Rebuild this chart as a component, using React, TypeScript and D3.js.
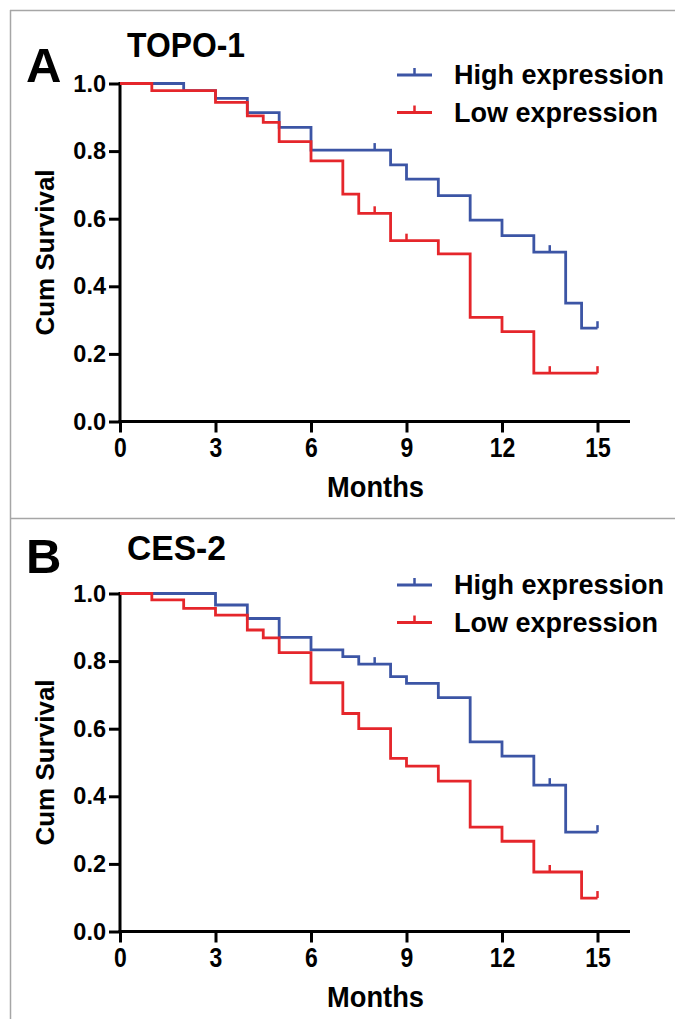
import React, { useEffect, useRef } from 'react';
import * as d3 from 'd3';

// Kaplan-Meier step data (time in months, cum survival)
const topoHighTimes = [0, 2, 3, 4, 5, 6, 8.5, 9, 10, 11, 12, 13, 14, 14.5, 15];
const topoHighSurv = [1.0, 0.979, 0.956, 0.914, 0.87, 0.803, 0.759, 0.717, 0.668, 0.596, 0.55, 0.501, 0.35, 0.276, 0.276];
const topoHighCensor = [8, 13.5, 15];

const topoLowTimes = [0, 1, 3, 4, 4.5, 5, 6, 7, 7.5, 8.5, 10, 11, 12, 13, 15];
const topoLowSurv = [1.0, 0.979, 0.944, 0.904, 0.885, 0.828, 0.771, 0.673, 0.616, 0.535, 0.496, 0.308, 0.266, 0.143, 0.143];
const topoLowCensor = [8, 9, 13.5, 15];

const cesHighTimes = [0, 3, 4, 5, 6, 7, 7.5, 8.5, 9, 10, 11, 12, 13, 14, 15];
const cesHighSurv = [1.0, 0.966, 0.926, 0.87, 0.833, 0.813, 0.791, 0.754, 0.734, 0.692, 0.561, 0.519, 0.433, 0.294, 0.294];
const cesHighCensor = [8, 13.5, 15];

const cesLowTimes = [0, 1, 2, 3, 4, 4.5, 5, 6, 7, 7.5, 8.5, 9, 10, 11, 12, 13, 14.5, 15];
const cesLowSurv = [1.0, 0.981, 0.956, 0.936, 0.892, 0.869, 0.825, 0.736, 0.645, 0.6, 0.512, 0.489, 0.445, 0.309, 0.267, 0.176, 0.099, 0.099];
const cesLowCensor = [13.5, 15];

const xTicks = [0, 3, 6, 9, 12, 15];
const yTicks = [0, 0.2, 0.4, 0.6, 0.8, 1.0];
const seriesLabels = ['High expression', 'Low expression'];

const BLUE = '#3c55a5';
const RED = '#e5262b';
const BOLD = '"Liberation Sans", Arial, Helvetica, sans-serif';

const panels = [
  {
    letter: 'A', title: 'TOPO-1', titleWidth: 118, top: 0, letterY: 82, titleY: 57,
    curves: [
      { times: topoHighTimes, surv: topoHighSurv, censor: topoHighCensor, color: BLUE },
      { times: topoLowTimes, surv: topoLowSurv, censor: topoLowCensor, color: RED },
    ],
  },
  {
    letter: 'B', title: 'CES-2', titleWidth: 99, top: 510, letterY: 63, titleY: 50,
    curves: [
      { times: cesHighTimes, surv: cesHighSurv, censor: cesHighCensor, color: BLUE },
      { times: cesLowTimes, surv: cesLowSurv, censor: cesLowCensor, color: RED },
    ],
  },
];

const App = () => {
  const ref = useRef<SVGSVGElement | null>(null);

  useEffect(() => {
    const svg = d3.select(ref.current);
    svg.selectAll('*').remove();

    // outer frame + divider
    const frame = svg.append('g').attr('stroke', '#a6a6a6').attr('stroke-width', 1.5);
    frame.append('line').attr('x1', 10.5).attr('x2', 10.5).attr('y1', 10).attr('y2', 1019);
    frame.append('line').attr('x1', 10).attr('x2', 675).attr('y1', 10.5).attr('y2', 10.5);
    frame.append('line').attr('x1', 10).attr('x2', 675).attr('y1', 518.5).attr('y2', 518.5);

    const x = d3.scaleLinear().domain([0, 15]).range([120, 597.5]);

    panels.forEach(p => {
      const g = svg.append('g').attr('transform', `translate(0,${p.top})`);
      const y = d3.scaleLinear().domain([0, 1]).range([421.5, 83.5]);

      // panel letter + title (title is a condensed face in the original)
      g.append('text').attr('x', 26).attr('y', p.letterY)
        .attr('font-family', BOLD).attr('font-weight', 'bold').attr('font-size', 49)
        .text(p.letter);
      g.append('text').attr('x', 127).attr('y', p.titleY)
        .attr('font-family', BOLD).attr('font-weight', 'bold').attr('font-size', 35)
        .attr('textLength', p.titleWidth).attr('lengthAdjust', 'spacingAndGlyphs')
        .text(p.title);

      // axes
      const yAxis = g.append('g').attr('transform', 'translate(120,0)')
        .call(d3.axisLeft(y).tickValues(yTicks).tickFormat(d3.format('.1f')).tickSize(11).tickSizeOuter(0).tickPadding(3));
      const xAxis = g.append('g').attr('transform', 'translate(0,421.5)')
        .call(d3.axisBottom(x).tickValues(xTicks).tickSize(11).tickSizeOuter(0).tickPadding(5));
      [yAxis, xAxis].forEach(a => {
        a.select('.domain').remove();
        a.selectAll('line').attr('stroke', '#000').attr('stroke-width', 3);
      });
      yAxis.selectAll('text').attr('font-family', BOLD).attr('font-weight', 'bold').attr('font-size', 23.5).attr('fill', '#000');
      xAxis.selectAll('text').attr('font-family', BOLD).attr('font-weight', 'bold').attr('font-size', 28)
        .attr('fill', '#000').attr('transform', 'scale(0.82,1)');

      g.append('line').attr('x1', 120).attr('x2', 120).attr('y1', y(1) - 1.5).attr('y2', y(0))
        .attr('stroke', '#000').attr('stroke-width', 3);
      g.append('line').attr('x1', 118.5).attr('x2', 630).attr('y1', y(0)).attr('y2', y(0))
        .attr('stroke', '#000').attr('stroke-width', 3);

      g.append('text').attr('x', 327).attr('y', 497)
        .attr('font-family', BOLD).attr('font-weight', 'bold').attr('font-size', 30)
        .attr('textLength', 97).attr('lengthAdjust', 'spacingAndGlyphs')
        .text('Months');
      g.append('text').attr('transform', `translate(54,${(y(0) + y(1)) / 2}) rotate(-90)`)
        .attr('text-anchor', 'middle')
        .attr('font-family', BOLD).attr('font-weight', 'bold').attr('font-size', 26)
        .text('Cum Survival');

      // survival curves
      p.curves.forEach(c => {
        const pts: [number, number][] = c.times.map((t, i) => [x(t), y(c.surv[i])]);
        g.append('path')
          .attr('d', d3.line().curve(d3.curveStepAfter)(pts))
          .attr('fill', 'none').attr('stroke', c.color).attr('stroke-width', 2.8);
        // censor marks: step value at each censor time
        c.censor.forEach(ct => {
          const idx = d3.bisectRight(c.times, ct) - 1;
          const sv = c.surv[Math.max(0, idx)];
          g.append('line').attr('x1', x(ct)).attr('x2', x(ct))
            .attr('y1', y(sv)).attr('y2', y(sv) - 7)
            .attr('stroke', c.color).attr('stroke-width', 2.5);
        });
      });

      // legend
      p.curves.forEach((c, i) => {
        const ly = 75 + i * 37.5;
        g.append('line').attr('x1', 397).attr('x2', 432).attr('y1', ly).attr('y2', ly)
          .attr('stroke', c.color).attr('stroke-width', 2.8);
        g.append('line').attr('x1', 414.5).attr('x2', 414.5).attr('y1', ly).attr('y2', ly - 7)
          .attr('stroke', c.color).attr('stroke-width', 2.5);
        g.append('text').attr('x', 454).attr('y', ly + 9)
          .attr('font-family', BOLD).attr('font-weight', 'bold').attr('font-size', 27)
          .text(seriesLabels[i]);
      });
    });
  }, []);

  return (
    <svg ref={ref} width={675} height={1019}
      style={{ position: 'absolute', left: 0, top: 0, background: '#fff' }} />
  );
};

export default App;
